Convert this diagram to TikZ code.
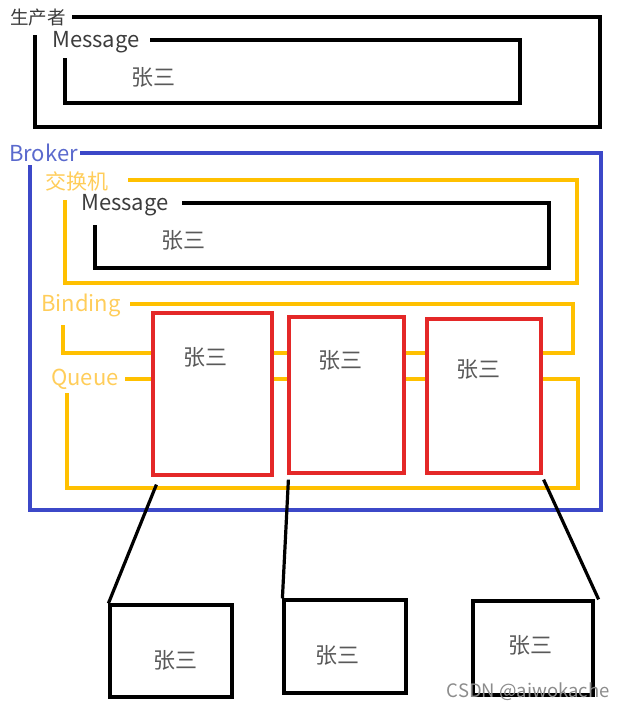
\documentclass[tikz,border=0pt]{standalone}
\usepackage{fontspec}
\setmainfont{Noto Sans CJK SC}
\definecolor{bblue}{RGB}{60,72,200}
\definecolor{bblueT}{RGB}{90,105,205}
\definecolor{yorange}{RGB}{255,192,0}
\definecolor{yorangeT}{RGB}{255,205,90}
\definecolor{qred}{RGB}{228,40,40}
\definecolor{txtgray}{RGB}{60,60,60}
\definecolor{wmgray}{RGB}{140,140,140}
\begin{document}
\begin{tikzpicture}[x=1pt,y=-1pt,
  lbl/.style={inner sep=0pt, font=\fontsize{22}{26}\selectfont, text=txtgray},
  cjk/.style={inner sep=0pt, font=\fontsize{#1}{24}\selectfont, text=txtgray},
  zs/.style={inner sep=0pt, font=\fontsize{22}{26}\selectfont, text=txtgray!85},
  frameK/.style={line width=3.2pt, draw=black},
  frameB/.style={line width=3.2pt, draw=bblue},
  frameY/.style={line width=3.2pt, draw=yorange},
  qbox/.style={draw=qred, line width=3.2pt, fill=white, minimum width=#1, inner sep=0pt},
  cbox/.style={draw=black, line width=3.2pt, fill=white, inner sep=0pt},
  conn/.style={line width=3.2pt, draw=black}
]
\useasboundingbox (0,0) rectangle (623,709);
% producer
\node[cjk=18.5, anchor=west] (prod) at (10,18) {生产者};
\draw[frameK] (72,17) -| (600,127) -| (35,35);
\node[lbl, anchor=west] (msg1) at (52,42) {Message};
\draw[frameK] (150,40) -| (520,103) -| (65,58);
\node[zs] (z0) at (153,77) {张三};
% broker
\node[lbl, anchor=west, text=bblueT] (broker) at (9,153) {Broker};
\draw[frameB] (80,153) -| (601,510) -| (30,165);
% exchange
\node[cjk=21, anchor=west, text=yorangeT] (exch) at (45,181) {交换机};
\draw[frameY] (128,180) -| (577,283) -| (65,200);
\node[lbl, anchor=west] (msg2) at (81,205) {Message};
\draw[frameK] (182,203) -| (549,268) -| (95,225);
\node[zs] (z1) at (183,240) {张三};
% binding
\node[lbl, anchor=west, text=yorangeT] (bind) at (41,305) {Binding};
\draw[frameY] (130,304) -| (573,353) -| (63,325);
% queue
\node[lbl, anchor=west, text=yorangeT] (queue) at (51,379) {Queue};
\draw[frameY] (125,379) -| (578,488) -| (67,393);
% red queues
\node[qbox=119, minimum height=162] (q1) at (212.5,394) {};
\node[qbox=115, minimum height=156] (q2) at (346.5,395) {};
\node[qbox=114, minimum height=154] (q3) at (484,396) {};
\node[zs] (z2) at (205,357) {张三};
\node[zs] (z3) at (340,360) {张三};
\node[zs] (z4) at (478,369) {张三};
% consumers
\node[cbox, minimum width=122, minimum height=92] (c1) at (171,651) {};
\node[cbox, minimum width=122, minimum height=93] (c2) at (345,646.5) {};
\node[cbox, minimum width=120, minimum height=94] (c3) at (533,648) {};
\node[zs] (z5) at (175,660) {张三};
\node[zs] (z6) at (337,655) {张三};
\node[zs] (z7) at (530,645) {张三};
% connectors
\draw[conn] ([xshift=5pt,yshift=-8pt]q1.south west) -- (c1.north west);
\draw[conn] ([xshift=1pt,yshift=-5pt]q2.south west) -- (c2.north west);
\draw[conn] ([xshift=1pt,yshift=-5pt]q3.south east) -- ([xshift=4pt]c3.north east);
% watermark
\node[inner sep=0pt, font=\fontsize{18.5}{20}\selectfont, text=wmgray, anchor=east] (wm) at (610,692) {CSDN @aiwokache};
\end{tikzpicture}
\end{document}
